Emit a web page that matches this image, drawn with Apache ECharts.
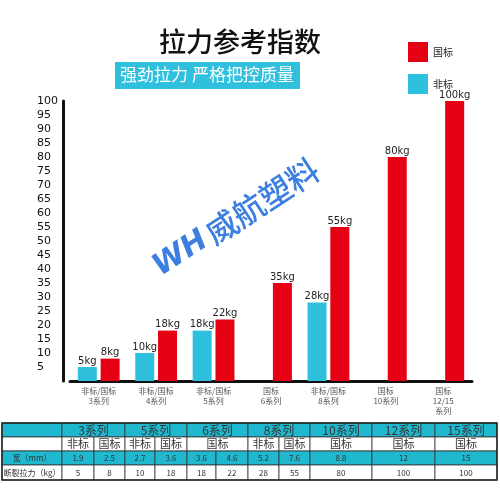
<!DOCTYPE html>
<html><head><meta charset="utf-8">
<script src="https://cdn.jsdelivr.net/npm/echarts@6/dist/echarts.min.js"></script>
<style>html,body{margin:0;padding:0;background:#fff}#c{width:500px;height:500px}</style>
</head><body><div id="c"></div>
<script>
const categories = ['非标/国标\n3系列','非标/国标\n4系列','非标/国标\n5系列','国标\n6系列','非标/国标\n8系列','国标\n10系列','国标\n12/15\n系列'];
const feibiao = [5, 10, 18, null, 28, null, null];
const guobiao = [8, 18, 22, 35, 55, 80, 100];
const seriesNames = ['国标', '非标'];
const yTicks = [5,10,15,20,25,30,35,40,45,50,55,60,65,70,75,80,85,90,95,100];
const tableGroups = ['3系列','5系列','6系列','8系列','10系列','12系列','15系列'];
const tableTypes = ['非标','国标','非标','国标','国标','非标','国标','国标','国标','国标'];
const widthVals = ['1.9','2.5','2.7','3.6','3.6','4.6','5.2','7.6','8.8','12','15'];
const forceVals = ['5','8','10','18','18','22','28','55','80','100','100'];
const rowLabels = ['宽（mm）','断裂拉力（kg）'];

const RED = '#e50014', CYAN = '#2ec0dd', TEAL = '#20b8cf';
const font = 'Noto Sans CJK SC';
const g = [];
const X = [2,62,94,125,155,187,216,248,279,310,372,435,497];
const Y = [423,437,451,465,480];
const groupSpan = [[1,3],[3,5],[5,7],[7,9],[9,10],[10,11],[11,12]];
const typeSpan = [[1,2],[2,3],[3,4],[4,5],[5,7],[7,8],[8,9],[9,10],[10,11],[11,12]];
const valSpan = [[1,2],[2,3],[3,4],[4,5],[5,6],[6,7],[7,8],[8,9],[9,10],[10,11],[11,12]];
const rowFill = [TEAL,'#fff',TEAL,'#fff'];
function cell(x0,x1,r,text,fs){
  g.push({type:'rect',shape:{x:X[x0],y:Y[r],width:X[x1]-X[x0],height:Y[r+1]-Y[r]},style:{fill:rowFill[r],stroke:'#333',lineWidth:0.8}});
  g.push({type:'text',x:(X[x0]+X[x1])/2,y:(Y[r]+Y[r+1])/2,style:{text:text,fill:'#333',font:fs+'px "'+font+'"',align:'center',verticalAlign:'middle'}});
}
cell(0,1,0,'',9); cell(0,1,1,'',9);
tableGroups.forEach((t,i)=>cell(groupSpan[i][0],groupSpan[i][1],0,t,12));
tableTypes.forEach((t,i)=>cell(typeSpan[i][0],typeSpan[i][1],1,t,11));
cell(0,1,2,rowLabels[0],8); cell(0,1,3,rowLabels[1],8);
widthVals.forEach((t,i)=>cell(valSpan[i][0],valSpan[i][1],2,t,8));
forceVals.forEach((t,i)=>cell(valSpan[i][0],valSpan[i][1],3,t,8));
g.push({type:'rect',shape:{x:2,y:423,width:495,height:57},style:{fill:'none',stroke:'#222',lineWidth:1.5}});
g.push({type:'text',x:240,y:42,style:{text:'拉力参考指数',font:'500 27px "'+font+'"',fill:'#111',align:'center',verticalAlign:'middle'}});
g.push({type:'rect',shape:{x:115,y:62,width:185,height:27},style:{fill:CYAN}});
g.push({type:'text',x:207,y:75,style:{text:'强劲拉力 严格把控质量',font:'17px "'+font+'"',fill:'#fff',align:'center',verticalAlign:'middle'}});
g.push({type:'group',x:205,y:238,rotation:Math.PI/180*33,children:[
  {type:'text',x:0,y:0,style:{text:'WH',font:'italic bold 30px "DejaVu Sans"',fill:'#3d7fe0',align:'right',verticalAlign:'middle'}},
  {type:'text',x:4,y:0,style:{text:'威航塑料',font:'500 32px "'+font+'"',fill:'#3d7fe0',align:'left',verticalAlign:'middle'}}
]});

const chart = echarts.init(document.getElementById('c'));
chart.setOption({
  animation:false,
  legend:{orient:'vertical',right:42,top:37,itemWidth:20,itemHeight:20,itemGap:12,icon:'rect',
    data:seriesNames,textStyle:{fontFamily:font,fontSize:10,color:'#222'}},
  grid:{left:70,right:28,top:101,bottom:119},
  xAxis:{type:'category',data:categories,axisTick:{show:false},
    axisLine:{lineStyle:{color:'#111',width:3}},
    axisLabel:{fontFamily:font,fontSize:8,color:'#555',lineHeight:10,margin:5,interval:0}},
  yAxis:{type:'value',min:0,max:100,interval:5,offset:7,splitLine:{show:false},
    axisLine:{show:true,lineStyle:{color:'#111',width:3}},axisTick:{show:false},
    axisLabel:{fontFamily:'DejaVu Sans',fontSize:11,color:'#111',align:'left',margin:26,
      formatter:v=>yTicks.includes(v)?String(v):''}},
  series:[
    {name:'非标',type:'bar',data:feibiao,barWidth:19,barGap:'20%',itemStyle:{color:CYAN},
      label:{show:true,position:'top',distance:1,formatter:'{c}kg',fontFamily:'DejaVu Sans',fontSize:10,color:'#222'}},
    {name:'国标',type:'bar',data:guobiao,barWidth:19,itemStyle:{color:RED},
      label:{show:true,position:'top',distance:1,formatter:'{c}kg',fontFamily:'DejaVu Sans',fontSize:10,color:'#222'}}
  ],
  graphic:g
});
</script></body></html>
